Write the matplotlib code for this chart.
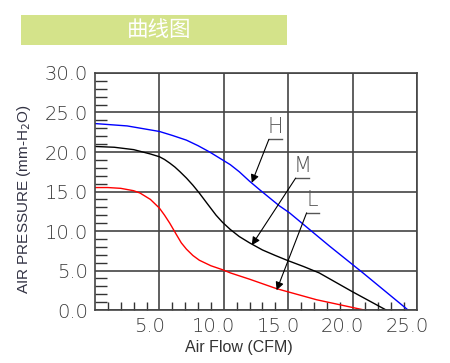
import numpy as np
import matplotlib
matplotlib.use("Agg")
import matplotlib.pyplot as plt
from matplotlib.patches import Rectangle
from matplotlib.transforms import ScaledTranslation

# curve readings (Air Flow CFM, pressure mm-H2O)
h_flow = [0, 2.5, 5.0, 6.0, 7.1, 8.0, 8.9, 9.9, 10.5, 11.2, 12.0, 12.8, 14.3, 15.1, 18.2, 20.8, 24.3]
h_pres = [23.6, 23.3, 22.6, 22.1, 21.5, 20.8, 20.0, 19.0, 18.4, 17.5, 16.3, 15.2, 13.2, 12.3, 8.1, 4.7, 0]

m_flow = [0, 1.5, 3.0, 4.3, 5.0, 5.4, 5.8, 6.2, 6.6, 7.1, 7.6, 8.1, 8.7, 9.4, 9.9, 10.5, 11.2,
          12.0, 13.0, 14.0, 14.9, 16.2, 17.4, 20.0, 22.6]
m_pres = [20.7, 20.6, 20.3, 19.75, 19.4, 19.05, 18.6, 18.1, 17.5, 16.7, 15.8, 14.8, 13.5, 12.0, 11.1,
          10.2, 9.3, 8.5, 7.6, 6.9, 6.3, 5.5, 4.7, 2.3, 0]

l_flow = [0, 1.0, 2.0, 3.0, 3.5, 4.3, 5.0, 5.4, 5.8, 6.3, 6.7, 7.1, 7.6, 8.1, 9.0, 9.9,
          10.5, 12.0, 14.1, 17.2, 20.9]
l_pres = [15.5, 15.5, 15.4, 15.1, 14.8, 14.0, 12.9, 12.0, 11.0, 9.6, 8.5, 7.7, 6.9, 6.3, 5.6, 5.1,
          4.7, 3.9, 2.7, 1.3, 0]

x_ticks = [5, 10, 15, 20, 25]
y_ticks = [0, 5, 10, 15, 20, 25, 30]

fig = plt.figure(figsize=(4.5, 3.63), dpi=100)

# title banner
fig.patches.append(Rectangle((0.0467, 0.876), 0.591, 0.0827, transform=fig.transFigure,
                             facecolor="#d4e38a", edgecolor="none"))
fig.text(0.353, 0.916, "曲线图", color="white", fontsize=15.5, ha="center", va="center",
         family=["Noto Sans CJK SC", "DejaVu Sans"])

ax = fig.add_axes([0.2111, 0.146, 0.7156, 0.6529])
ax.plot(h_flow, h_pres, color="#0000ff", lw=1)
ax.plot(m_flow, m_pres, color="black", lw=1)
ax.plot(l_flow, l_pres, color="#ff0000", lw=1)

ax.set_xlim(0, 25)
ax.set_ylim(0, 30)
ax.set_xticks(x_ticks)
ax.set_xticklabels(["%.1f" % v for v in x_ticks])
ax.set_yticks(y_ticks)
ax.set_yticklabels(["%.1f" % v for v in y_ticks])
ax.set_xticks(np.arange(1, 25), minor=True)
ax.set_yticks(np.arange(1, 30), minor=True)
ax.grid(True, which="major", color="#444444", lw=1.2)
ax.tick_params(which="major", length=0, pad=5, labelsize=14, labelcolor="#3a3a3a")
ax.tick_params(axis="x", which="minor", direction="in", length=6, width=1, color="#333333")
ax.tick_params(axis="y", which="minor", direction="in", length=8.5, width=1, color="#333333")
for lab in ax.get_xticklabels() + ax.get_yticklabels():
    lab.set_fontweight("light")
for lab in ax.get_xticklabels():
    lab.set_transform(lab.get_transform() + ScaledTranslation(-0.1, 0, fig.dpi_scale_trans))
for s in ax.spines.values():
    s.set_color("#444444")
    s.set_linewidth(1.2)

ax.set_xlabel("Air Flow (CFM)", family="Liberation Sans", fontsize=11.5, color="#333333")
ax.set_ylabel("AIR PRESSURE (mm-H$_2$O)", family="Liberation Sans", fontsize=11, color="#333344")
ax.xaxis.set_label_coords(0.446, -0.127)
ax.yaxis.set_label_coords(-0.193, 0.47)

# H / M / L callouts
callouts = [("H", 13.5, 14.5, 21.6, 12.17, 16.1),
            ("M", 15.58, 16.6, 16.7, 12.17, 8.2),
            ("L", 16.43, 17.36, 12.3, 14.1, 2.5)]
for name, x0, x1, yy, tx, ty in callouts:
    ax.plot([x0, x1], [yy, yy], color="#555555", lw=1)
    ax.text((x0 + x1) / 2, yy + 0.3, name, ha="center", va="bottom", fontsize=15,
            fontweight="light", color="#555555")
    ax.annotate("", xy=(tx, ty), xytext=(x0, yy),
                arrowprops=dict(arrowstyle="-|>", color="black", lw=0.8,
                                mutation_scale=12, shrinkA=0, shrinkB=0))

fig.savefig("out.png", dpi=100)
